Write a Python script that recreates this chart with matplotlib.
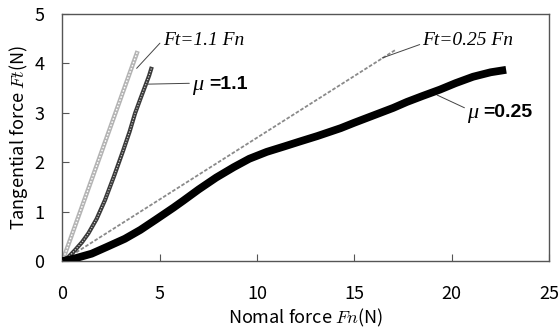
import matplotlib
matplotlib.use("Agg")
import matplotlib.pyplot as plt

# ---- data ----
ref11_fn = [0.0, 3.86]
ref11_ft = [0.0, 4.25]

mu11_fn = [0, 0.3, 0.64, 1.0, 1.33, 1.75, 2.18, 2.65, 3.13, 3.45, 3.73, 4.0, 4.24, 4.45, 4.59]
mu11_ft = [0, 0.08, 0.22, 0.38, 0.56, 0.85, 1.23, 1.72, 2.25, 2.62, 2.99, 3.28, 3.53, 3.75, 3.93]

ref025_fn = [0.0, 17.1]
ref025_ft = [0.0, 4.27]

mu025_fn = [0, 0.6, 1.5, 2.3, 3.2, 4.0, 4.8, 5.7, 6.2, 7.0, 7.9, 8.8, 9.6, 10.5, 11.4,
            12.2, 13.1, 14.3, 15.0, 16.0, 17.0, 17.7, 18.5, 19.4, 20.2, 21.1, 22.0, 22.8]
mu025_ft = [0, 0.05, 0.15, 0.29, 0.45, 0.63, 0.84, 1.08, 1.22, 1.45, 1.69, 1.9, 2.07, 2.21, 2.32,
            2.42, 2.53, 2.69, 2.80, 2.95, 3.10, 3.22, 3.34, 3.47, 3.6, 3.73, 3.82, 3.87]

xticks = [0, 5, 10, 15, 20, 25]
yticks = [0, 1, 2, 3, 4, 5]

sans = ['Noto Sans CJK JP', 'DejaVu Sans']
plt.rcParams['font.family'] = sans

fig = plt.figure(figsize=(5.59, 3.33), dpi=100)
ax = fig.add_axes([0.1118, 0.216, 0.982 - 0.1118, 0.958 - 0.216])

# Ft = 1.1 Fn (grey hollow diamonds)
ax.plot(ref11_fn, ref11_ft, color='#b4b4b4', lw=3.2, solid_capstyle='butt', zorder=2)
ax.plot(ref11_fn, ref11_ft, color='white', lw=1.0, ls=(0, (1.2, 1.2)), zorder=2.1)
# mu = 1.1 (dark triangles)
ax.plot(mu11_fn, mu11_ft, color='#3a3a3a', lw=3.0, solid_capstyle='butt', zorder=3)
ax.plot(mu11_fn, mu11_ft, color='#dddddd', lw=0.8, ls=(0, (1.0, 1.5)), zorder=3.1)
# Ft = 0.25 Fn (grey dotted)
ax.plot(ref025_fn, ref025_ft, color='#8a8a8a', lw=1.3, ls=(0, (2.0, 1.0)), zorder=2)
# mu = 0.25 (thick black squares)
ax.plot(mu025_fn, mu025_ft, color='black', lw=5.6, solid_capstyle='butt',
        solid_joinstyle='round', zorder=4)

ax.set_xlim(0, 25)
ax.set_ylim(0, 5)
ax.set_xticks(xticks)
ax.set_yticks(yticks)
ax.tick_params(axis='both', direction='in', length=5, width=0.8, color='#555555',
               labelsize=13, top=False, right=False)
ax.tick_params(axis='x', pad=17)
ax.tick_params(axis='y', pad=13)
for s in ax.spines.values():
    s.set_color('#555555')
    s.set_linewidth(1.0)

ax.set_xlabel('Nomal force $Fn$(N)', fontsize=13, math_fontfamily='cm', labelpad=3)
ax.set_ylabel('Tangential force $Ft$(N)', fontsize=13, math_fontfamily='cm', labelpad=3)

serif_it = dict(family='Liberation Serif', style='italic', fontsize=14)
lead = dict(arrowstyle='-', color='#444444', lw=0.7, shrinkA=0, shrinkB=0)

ax.annotate('Ft=1.1 Fn', xy=(3.81, 3.90), xytext=(5.15, 4.47), va='center', ha='left',
            arrowprops=dict(lead, relpos=(0, 0.5)), **serif_it)
ax.annotate('Ft=0.25 Fn', xy=(16.43, 4.11), xytext=(18.5, 4.47), va='center', ha='left',
            arrowprops=dict(lead, relpos=(0, 0.3)), **serif_it)

ax.annotate('μ', xy=(4.34, 3.58), xytext=(6.66, 3.56), va='center', ha='left',
            arrowprops=dict(lead, relpos=(0, 0.6)), family='Liberation Serif',
            style='italic', fontsize=16)
ax.text(7.55, 3.58, '=1.1', va='center', ha='left', fontsize=14, fontweight='bold',
        family='Liberation Sans')
ax.annotate('μ', xy=(19.25, 3.36), xytext=(20.8, 2.98), va='center', ha='left',
            arrowprops=dict(lead, relpos=(0, 0.75)), family='Liberation Serif',
            style='italic', fontsize=16)
ax.text(21.6, 3.0, '=0.25', va='center', ha='left', fontsize=14, fontweight='bold',
        family='Liberation Sans')

fig.savefig('out.png', dpi=100)
